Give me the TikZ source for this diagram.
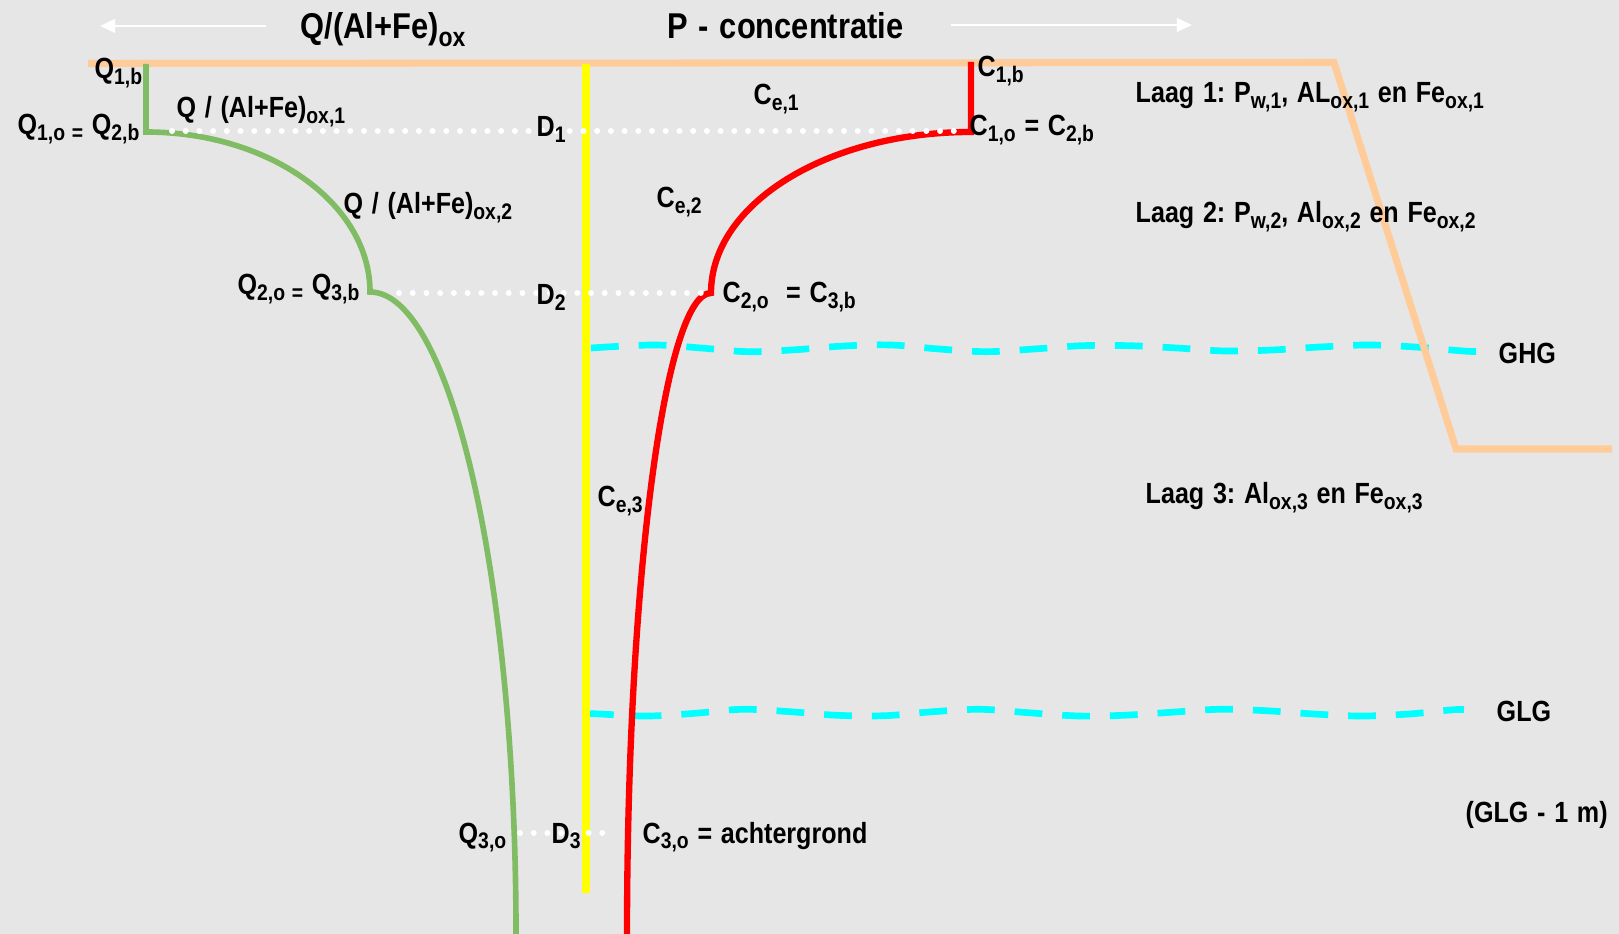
\documentclass[tikz,border=0pt]{standalone}
\usepackage{fontspec}
\setmainfont{Liberation Sans}[FakeStretch=0.86,WordSpace=1.25]
\usetikzlibrary{arrows.meta}
\frenchspacing
\definecolor{bgc}{HTML}{E6E6E6}
\definecolor{peach}{HTML}{FFCC99}
\definecolor{qgreen}{HTML}{80BC63}
\definecolor{wcyan}{HTML}{00FFFF}
\definecolor{cred}{HTML}{FF0000}
\definecolor{dyellow}{HTML}{FFFF00}
\newcommand\sbs[1]{\raisebox{-1.6pt}{\fontsize{6.4}{7}\selectfont #1}}
\newcommand\sbt[1]{\raisebox{-2pt}{\fontsize{7.6}{8}\selectfont #1}}
\begin{document}
\begin{tikzpicture}[x=0.01cm,y=-0.01cm,
 lbl/.style={font=\fontsize{8.3}{9.6}\selectfont\bfseries, inner sep=0pt, anchor=base west},
 ttl/.style={font=\fontsize{10.2}{12}\selectfont\bfseries, inner sep=0pt, anchor=base west},
 soil/.style={draw=peach, line width=2pt},
 qline/.style={draw=qgreen, line width=1.6pt},
 cline/.style={draw=cred, line width=1.8pt},
 dline/.style={draw=dyellow, line width=2pt},
 dots/.style={draw=white, line width=1.7pt, line cap=round, dash pattern=on 0pt off 3.9pt},
 wl/.style={draw=wcyan, line width=1.9pt, dash pattern=on 7.9pt off 5.67pt},
 axarrow/.style={draw=white, line width=0.8pt, -{Triangle[length=4.3pt,width=3.8pt]}}
]
\fill[bgc] (0,0) rectangle (1619,934);
\useasboundingbox (0,0) rectangle (1619,934);

% coordinates
\coordinate (la1) at (266,26); \coordinate (la2) at (100,26);
\coordinate (ra1) at (951,25); \coordinate (ra2) at (1192,25);
\coordinate (s0) at (88,63.5); \coordinate (s1) at (1334,62.5);
\coordinate (s2) at (1456,449); \coordinate (s3) at (1612,449);
\coordinate (gtop) at (146,64); \coordinate (g1) at (146,132);
\coordinate (g2) at (370,292); \coordinate (g3) at (516,934);
\coordinate (rtop) at (971,62); \coordinate (r1) at (971,132);
\coordinate (r2) at (711,293); \coordinate (r3) at (627,934);
\coordinate (ytop) at (586,64); \coordinate (ybot) at (586,893);
\coordinate (d1a) at (172,131); \coordinate (d1b) at (965,131);
\coordinate (d2a) at (399,293); \coordinate (d2b) at (702,293);
\coordinate (d3a) at (520,833); \coordinate (d3b) at (614,833);

% axis arrows
\draw[axarrow] (la1) -- (la2);
\draw[axarrow] (ra1) -- (ra2);

% water levels
\draw[wl] plot[smooth, tension=0.6] coordinates {(591,348) (653,345) (701,348) (748,351.7) (796,349.7) (844,346) (891,345) (939,349) (986,351.7) (1034,349) (1082,345.7) (1129,345.7) (1177,348) (1225,351) (1272,350) (1320,347) (1368,345) (1415,347) (1463,351) (1477,351.5)};
\draw[wl] plot[smooth, tension=0.6] coordinates {(586,713.5) (600,714) (647,716) (695,713.3) (742,709.3) (790,711.7) (837,715.3) (885,715.7) (933,711.7) (980,709.3) (1028,712.7) (1079,716) (1123,715.3) (1171,712.3) (1219,709.3) (1266,710.7) (1314,714) (1361,716) (1409,714) (1450,710) (1464,709.5)};

% soil surface
\draw[soil] (s0) -- (s1) -- (s2) -- (s3);

% depth line
\draw[dline] (ytop) -- (ybot);

% Q curve
\draw[qline] (gtop) -- (g1) .. controls (270,132) and (370,204) .. (g2)
  .. controls (451,292) and (516,580) .. (g3);
% C curve
\draw[cline] (rtop) -- (r1) .. controls (827,132) and (711,204) .. (r2)
  .. controls (665,293) and (627,580) .. (r3);

% dotted levels
\draw[dots] (d1a) -- (d1b);
\draw[dots] (d2a) -- (d2b);
\draw[dots] (d3a) -- (d3b);

% titles
\node[ttl] (tq) at (300,39) {Q/(Al+Fe)\sbt{ox}};
\node[ttl] (tp) at (667,39) {P - concentratie};

% labels
\node[lbl] (q1b) at (94,79) {Q\sbs{1,b}};
\node[lbl] (q1o) at (17,135) {Q\sbs{1,o =} Q\sbs{2,b}};
\node[lbl] (qal1) at (176,118) {Q / (Al+Fe)\sbs{ox,1}};
\node[lbl] (qal2) at (343,214) {Q / (Al+Fe)\sbs{ox,2}};
\node[lbl] (q2o) at (237,295) {Q\sbs{2,o =} Q\sbs{3,b}};
\node[lbl] (q3o) at (458,843) {Q\sbs{3,o}};
\node[lbl] (dd1) at (536,137) {D\sbs{1}};
\node[lbl] (dd2) at (536,305) {D\sbs{2}};
\node[lbl] (dd3) at (551,843) {D\sbs{3}};
\node[lbl] (ce1) at (753,105) {C\sbs{e,1}};
\node[lbl] (ce2) at (656,208) {C\sbs{e,2}};
\node[lbl] (ce3) at (597,507) {C\sbs{e,3}};
\node[lbl] (c1b) at (977,77) {C\sbs{1,b}};
\node[lbl] (c1o) at (969,136) {C\sbs{1,o} = C\sbs{2,b}};
\node[lbl] (c2o) at (722,303) {C\sbs{2,o}\ \ = C\sbs{3,b}};
\node[lbl] (c3o) at (642,843) {C\sbs{3,o} = achtergrond};
\node[lbl] (laag1) at (1135,103) {Laag 1: P\sbs{w,1}, AL\sbs{ox,1} en Fe\sbs{ox,1}};
\node[lbl] (laag2) at (1135,223) {Laag 2: P\sbs{w,2}, Al\sbs{ox,2} en Fe\sbs{ox,2}};
\node[lbl] (laag3) at (1145,504) {Laag 3: Al\sbs{ox,3} en Fe\sbs{ox,3}};
\node[lbl] (ghg) at (1498,364) {GHG};
\node[lbl] (glg) at (1496,721) {GLG};
\node[lbl] (glg1) at (1465,822) {(GLG - 1 m)};
\end{tikzpicture}
\end{document}
